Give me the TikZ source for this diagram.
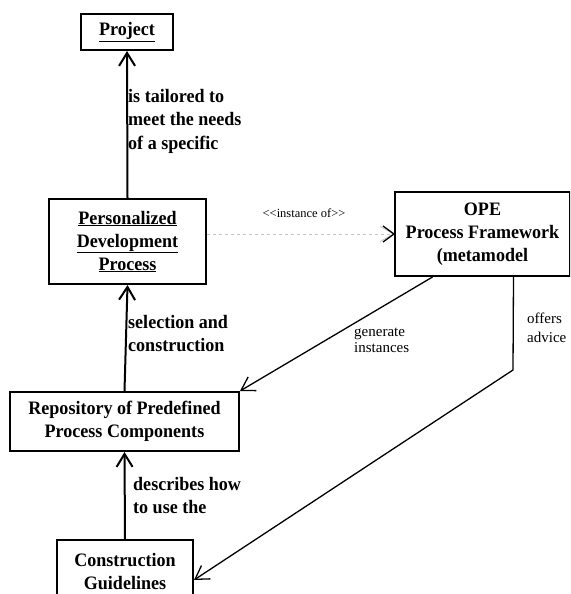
\documentclass[tikz,border=0pt]{standalone}
\usepackage{fontspec}
\setmainfont{Liberation Serif}
\newfontfamily\boxfont[FakeStretch=0.95]{Liberation Serif}
\usetikzlibrary{arrows.meta,calc}

\begin{document}
\begin{tikzpicture}[x=1pt, y=-1pt,
    box/.style={draw, rectangle, line width=2pt, align=center, inner sep=0pt,
      font=\boxfont\bfseries\fontsize{19}{23}\selectfont},
    lbl/.style={anchor=north west, align=left, inner sep=0pt,
      font=\boxfont\bfseries\fontsize{19}{23.5}\selectfont},
    note/.style={anchor=north west, align=left, inner sep=0pt,
      font=\fontsize{15}{16}\selectfont},
    link/.style={-{Straight Barb[length=13pt,width=16pt]}, line width=2pt},
    diag/.style={-{Straight Barb[length=13pt,width=16pt]}, line width=1.3pt}]
    \useasboundingbox (0,0) rectangle (570,594);
    \clip (0,0) rectangle (570,594);

    \node[box, minimum width=92pt, minimum height=36pt] (project) at (127,32) {\underline{Project}};
    \node[box, minimum width=157pt, minimum height=85pt] (pdp) at (127.5,241.5)
        {\underline{Personalized}\\\underline{Development}\\\underline{Process}};
    \node[box, minimum width=175pt, minimum height=84pt] (ope) at (482.5,234)
        {OPE\\Process Framework\\(metamodel};
    \node[box, minimum width=229pt, minimum height=59pt] (repo) at (124.5,421.5)
        {Repository of Predefined\\ Process Components};
    \node[box, minimum width=136pt, minimum height=64pt] (guide) at (125,572)
        {Construction\\Guidelines};

    \draw[link] (pdp.north) -- (project.south);
    \node[lbl] (tailored) at (128,89) {is tailored to\\meet the needs\\of a specific};

    \draw[-{Straight Barb[length=13pt,width=15pt]}, dashed, gray!45, line width=0.8pt] (pdp.east |- ope.west) -- (ope.west);
    \draw[black, line width=1.3pt] ($(ope.west)+(-11,-8)$) -- (ope.west) -- ($(ope.west)+(-11,8)$);
    \node[font=\fontsize{12.5}{14}\selectfont, inner sep=0pt] (inst) at (304,213) {<{}<instance of>{}>};

    \draw[link] (repo.north) -- (pdp.south);
    \node[lbl] (select) at (128,315) {selection and\\construction};

    \draw[link] (guide.north) -- (repo.south);
    \node[lbl] (describes) at (133,477) {describes how\\to use the};

    \coordinate (gen) at ($(ope.south)+(-50,0)$);
    \draw[diag] (gen) -- (repo.north east);
    \node[note] (generate) at (354,328) {generate\\instances};

    \coordinate (adv) at ($(ope.south)+(31,0)$);
    \coordinate (bend) at (513,370);
    \coordinate (gdin) at ($(guide.east)+(0,8)$);
    \draw[diag] (adv) -- (bend) -- (gdin);
    \node[note, font=\fontsize{15}{19}\selectfont] (offers) at (527,313) {offers\\advice};
\end{tikzpicture}
\end{document}
